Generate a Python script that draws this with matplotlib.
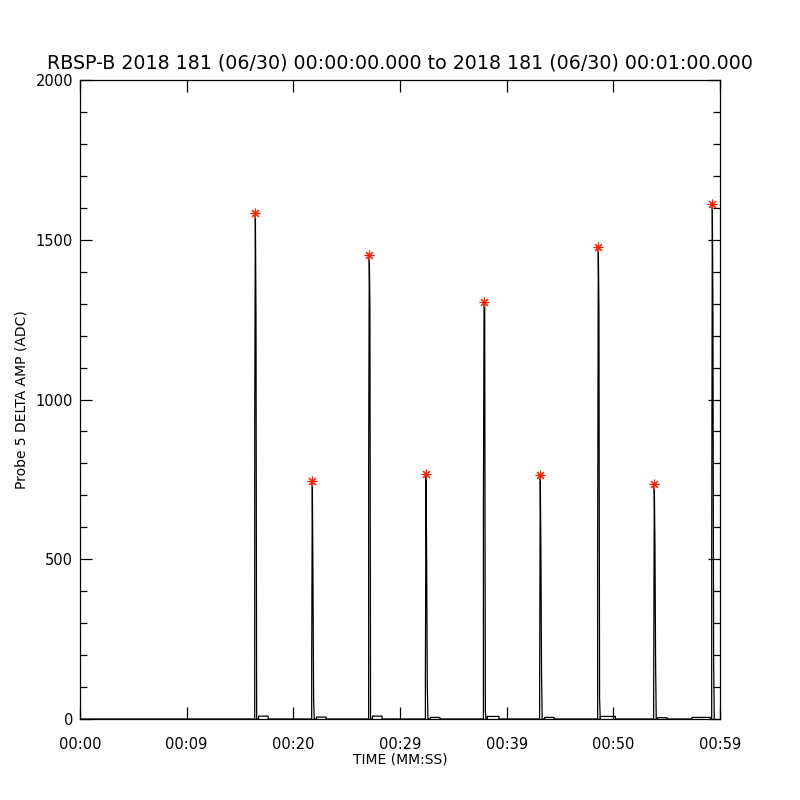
import numpy as np
import matplotlib
matplotlib.use("Agg")
import matplotlib.pyplot as plt

# Datos (RBSP-B, sonda 5)

# tiempo de cada pico (s desde 00:00:00)
t_pico = [16.44, 21.78, 27.12, 32.44, 37.88, 43.15, 48.59, 53.84, 59.28]

# muestras de cada pulso (ADC)
subida = [931, 178, 791, 134, 672, 97, 550, 66, 507]
pico = [1584, 744, 1453, 766, 1306, 763, 1478, 734, 1612]
bajada = [1259, 440, 1284, 481, 1294, 522, 1284, 553, 1268]
cola = [0, 65, 0, 100, 25, 144, 66, 184, 194]

# pequeño escalon cerca de la base tras cada pulso
escalon = [9, 6, 9, 5, 8, 5, 8, 4, 5]
escalon_ini = [0.30, 0.40, 0.30, 0.40, 0.30, 0.40, 0.20, 0.30, -1.90]
escalon_fin = [1.20, 1.30, 1.20, 1.30, 1.40, 1.30, 1.60, 1.20, -0.15]

xtick_pos = [0, 10, 20, 30, 40, 50, 60]
xtick_lab = ["00:00", "00:09", "00:20", "00:29", "00:39", "00:50", "00:59"]
ytick_pos = [0, 500, 1000, 1500, 2000]

dt = 0.06  # intervalo de muestreo aprox.

t = [0.0]
v = [0.0]
for i in range(len(t_pico)):
    tp = t_pico[i]
    seg = [(tp - dt, 0), (tp - dt + 0.001, subida[i]), (tp, pico[i]),
           (tp + dt, bajada[i]), (tp + 2 * dt, cola[i]), (tp + 3 * dt, 0)]
    e0, e1 = tp + escalon_ini[i], tp + escalon_fin[i]
    esc = [(e0, 0), (e0 + 0.001, escalon[i]), (e1, escalon[i]), (e1 + 0.001, 0)]
    if escalon_ini[i] < 0:
        seg = esc + seg
    else:
        seg = seg + esc
    for a, b in seg:
        t.append(a)
        v.append(b)
t = np.array(t)
v = np.array(v)

fig = plt.figure(figsize=(8, 8), dpi=100)
ax = fig.add_axes([0.1, 0.10125, 0.8, 0.79875])

ax.plot(t, v, color="black", lw=0.9)
ax.plot(t_pico, pico, linestyle="none", marker=(8, 2, 0), markersize=7,
        color="#ff2000", mew=0.8)

ax.set_xlim(0, 60)
ax.set_ylim(0, 2000)

ax.set_xticks(xtick_pos)
ax.set_xticklabels(xtick_lab)
ax.set_yticks(ytick_pos)
ax.set_yticks(np.arange(0, 2001, 100), minor=True)

ax.tick_params(axis="both", which="both", direction="in", top=True, right=True,
               labelsize=10.5, width=0.9)
ax.tick_params(axis="x", which="major", length=8.6, pad=13)
ax.tick_params(axis="x", which="minor", length=0)
ax.tick_params(axis="y", which="major", length=8.6, pad=5)
ax.tick_params(axis="y", which="minor", length=5)

for s in ax.spines.values():
    s.set_linewidth(0.9)

ax.set_xlabel("TIME (MM:SS)", fontsize=10, labelpad=0)
ax.set_ylabel("Probe 5 DELTA AMP (ADC)", fontsize=10, labelpad=5)
ax.set_title("RBSP-B 2018 181 (06/30) 00:00:00.000 to 2018 181 (06/30) 00:01:00.000",
             fontsize=13.7, pad=8)

fig.savefig("out.png", dpi=100)
